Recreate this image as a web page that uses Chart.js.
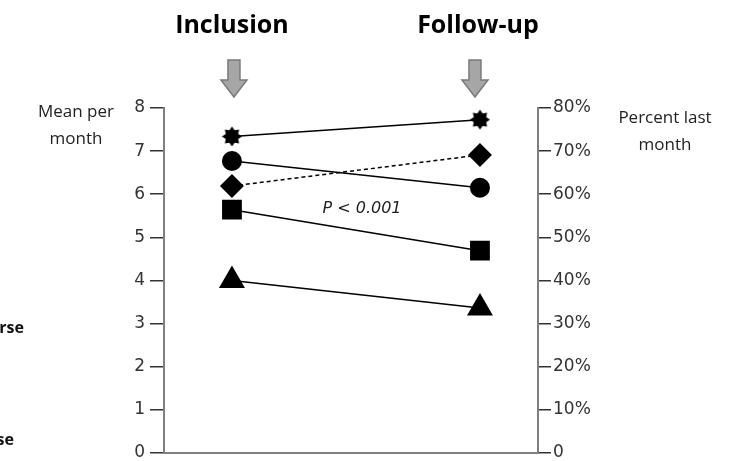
<!DOCTYPE html>
<html>
<head>
<meta charset="utf-8">
<script src="https://cdn.jsdelivr.net/npm/chart.js@4"></script>
<style>
  html, body { margin: 0; padding: 0; background: #fff; overflow: hidden; }
  canvas { display: block; }
</style>
</head>
<body>
<!-- a few px taller than the window; the overflow is cropped -->
<canvas id="c" width="743" height="468"></canvas>
<script>
// time points on the x axis (0 = inclusion, 1 = follow-up)
const periods = ['Inclusion', 'Follow-up'];
const periodX = [0, 1];

// series values (0..8, same grid as 0..80 %)
const starValues     = [7.34, 7.73];
const circleValues   = [6.77, 6.15];
const diamondValues  = [6.19, 6.91];
const squareValues   = [5.64, 4.69];
const triangleValues = [4.0, 3.36];

const leftTicksMax = 8;
const rightTicksMax = 80;

const FONT = '"Open Sans", "Noto Sans", sans-serif';
const TICK_FONT = '"DejaVu Sans", sans-serif';

// filled 8-point star marker
function makeStar(size) {
    const c = document.createElement('canvas');
    c.width = size; c.height = size;
    const g = c.getContext('2d');
    const cx = size / 2, cy = size / 2, ro = size / 2 - 0.5, ri = ro * 0.68;
    g.beginPath();
    for (let i = 0; i < 16; i++) {
        const r = i % 2 ? ri : ro;
        const a = -Math.PI / 2 + i * Math.PI / 8;
        g.lineTo(cx + r * Math.cos(a), cy + r * Math.sin(a));
    }
    g.closePath();
    g.fillStyle = '#000';
    g.fill();
    return c;
}

const toPts = vals => periodX.map((x, i) => ({ x, y: vals[i] }));

function series(vals, style, radius, dash) {
    return {
        data: toPts(vals),
        borderColor: '#000',
        backgroundColor: '#000',
        borderWidth: 1.5,
        borderDash: dash || [],
        pointStyle: style,
        pointRadius: radius,
        pointBorderWidth: 0,
        pointBackgroundColor: '#000',
        yAxisID: 'y',
    };
}

function drawArrow(ctx, cx) {
    ctx.save();
    ctx.beginPath();
    ctx.moveTo(cx - 6, 60);
    ctx.lineTo(cx + 6, 60);
    ctx.lineTo(cx + 6, 80);
    ctx.lineTo(cx + 13, 80);
    ctx.lineTo(cx, 97);
    ctx.lineTo(cx - 13, 80);
    ctx.lineTo(cx - 6, 80);
    ctx.closePath();
    ctx.fillStyle = '#a6a6a6';
    ctx.fill();
    ctx.strokeStyle = '#7a7a7a';
    ctx.lineWidth = 1.5;
    ctx.stroke();
    ctx.restore();
}

const decorations = {
    id: 'decorations',
    afterDraw(chart) {
        const ctx = chart.ctx;
        const xs = chart.scales.x;
        const ys = chart.scales.y;
        ctx.save();
        ctx.fillStyle = '#000';
        ctx.textAlign = 'center';
        ctx.textBaseline = 'middle';

        // period headers + arrows
        ctx.font = 'bold 25px ' + FONT;
        const titleOffset = [0, -2];
        const arrowOffset = [2, -5];
        periods.forEach((p, i) => {
            const px = xs.getPixelForValue(periodX[i]);
            ctx.fillText(p, px + titleOffset[i], 26);
            drawArrow(ctx, px + arrowOffset[i]);
        });

        // axis titles
        ctx.fillStyle = '#222';
        ctx.font = '17px ' + FONT;
        ctx.fillText('Mean per', 76, 112);
        ctx.fillText('month', 76, 139);
        ctx.fillText('Percent last', 665, 118);
        ctx.fillText('month', 665, 145);

        // p-value
        ctx.font = 'oblique 16px ' + TICK_FONT;
        ctx.fillText('P < 0.001', 362, ys.getPixelForValue(5.65));

        // legend labels cut off at the left edge
        ctx.font = 'bold 16px ' + FONT;
        ctx.textAlign = 'right';
        ctx.fillStyle = '#111';
        ctx.fillText('rse', 24, 328);
        ctx.fillText('se', 14, 440);
        ctx.restore();
    }
};

new Chart(document.getElementById('c'), {
    type: 'line',
    data: {
        datasets: [
            series(starValues, makeStar(21), 10),
            series(circleValues, 'circle', 10),
            series(diamondValues, 'rectRot', 12, [4, 3]),
            series(squareValues, 'rect', 14),
            series(triangleValues, 'triangle', 15),
        ]
    },
    options: {
        responsive: false,
        animation: false,
        devicePixelRatio: 1,
        layout: { autoPadding: false, padding: { top: 108, bottom: 0, left: 0, right: 0 } },
        plugins: { legend: { display: false }, tooltip: { enabled: false } },
        scales: {
            x: {
                type: 'linear',
                min: -0.274,
                max: 1.234,
                grid: { display: false },
                ticks: { display: false },
                border: { display: true, color: '#7f7f7f', width: 2 },
                afterFit: s => { s.height = 8; },
            },
            y: {
                position: 'left',
                min: 0,
                max: leftTicksMax,
                ticks: { stepSize: 1, color: '#333', font: { size: 17, family: TICK_FONT }, padding: 5 },
                grid: { drawOnChartArea: false, tickLength: 14, color: '#333', lineWidth: 1.5 },
                border: { color: '#7f7f7f', width: 2 },
                afterFit: s => { s.width = 164; },
            },
            y1: {
                position: 'right',
                min: 0,
                max: rightTicksMax,
                ticks: {
                    stepSize: 10, color: '#333', font: { size: 17, family: TICK_FONT }, padding: 2,
                    callback: v => v === 0 ? '0' : v + '%'
                },
                grid: { drawOnChartArea: false, tickLength: 13, color: '#333', lineWidth: 1.5 },
                border: { color: '#7f7f7f', width: 2 },
                afterFit: s => { s.width = 205; },
            },
        }
    },
    plugins: [decorations]
});
</script>
</body>
</html>
